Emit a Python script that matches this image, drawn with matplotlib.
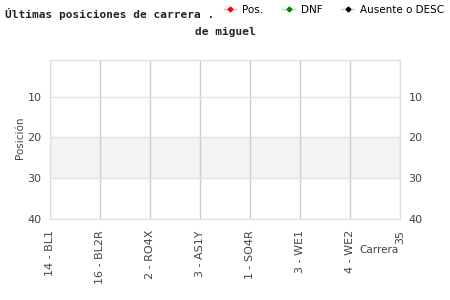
import matplotlib.pyplot as plt
from matplotlib.lines import Line2D

# carreras (eje x) y posiciones (eje y)
carreras = ['14 - BL1', '16 - BL2R', '2 - RO4X', '3 - AS1Y', '1 - SO4R',
            '3 - WE1', '4 - WE2', '35']
pos_ticks = [10, 20, 30, 40]
banda = [20, 30]

# series (sin datos en esta vista)
pos_x, pos_y = [], []
dnf_x, dnf_y = [], []
aus_x, aus_y = [], []

fig = plt.figure(figsize=(4.5, 3), dpi=100)
ax = fig.add_axes([0.111, 0.27, 0.778, 0.53])

ax.axhspan(banda[0], banda[1], color='#f3f3f3', zorder=0)
ax.plot(pos_x, pos_y, color='#ffaaaa', marker='P', mfc='red', mec='red')
ax.plot(dnf_x, dnf_y, color='#99ee99', marker='P', mfc='green', mec='green')
ax.plot(aus_x, aus_y, color='#99ee99', marker='P', mfc='black', mec='black')

ax.set_xlim(0, len(carreras) - 1)
ax.set_xticks(range(len(carreras)))
ax.set_xticklabels(carreras, rotation=90, fontsize=8, color='#444444')
ax.set_ylim(40, 1)
ax.set_yticks(pos_ticks)
ax.tick_params(axis='y', labelsize=8, labelcolor='#444444', length=0,
               labelright=True, pad=6)
ax.tick_params(axis='x', length=0, pad=8)
ax.xaxis.grid(True, color='#cccccc', lw=1)
ax.yaxis.grid(True, color='#e3e3e3', lw=1)
ax.set_axisbelow(True)
for s in ax.spines.values():
    s.set_color('#dddddd')

fig.text(0.045, 0.54, 'Posición', rotation=90, fontsize=7.5, color='#444444',
         ha='center', va='center')
fig.text(0.842, 0.168, 'Carrera', fontsize=7.5, color='#444444',
         ha='center', va='center')

fig.text(0.011, 0.955, 'Últimas posiciones de carrera .', family='DejaVu Sans Mono',
         weight='bold', fontsize=8, ha='left', va='center', color='#222222')
fig.text(0.5, 0.895, 'de miguel', family='DejaVu Sans Mono',
         weight='bold', fontsize=8, ha='center', va='center', color='#222222')

handles = [
    Line2D([], [], color='#ffaaaa', marker='P', ms=3, mfc='red', mec='red', lw=1),
    Line2D([], [], color='#99ee99', marker='P', ms=3, mfc='green', mec='green', lw=1),
    Line2D([], [], color='#99ee99', marker='P', ms=3, mfc='black', mec='black', lw=1),
]
fig.legend(handles, ['Pos.', 'DNF', 'Ausente o DESC'], loc='center left',
           bbox_to_anchor=(0.497, 0.968), ncol=3, frameon=False, fontsize=7.5,
           handlelength=1.2, columnspacing=1.8, handletextpad=0.6,
           borderpad=0, borderaxespad=0)

fig.savefig('out.png')
